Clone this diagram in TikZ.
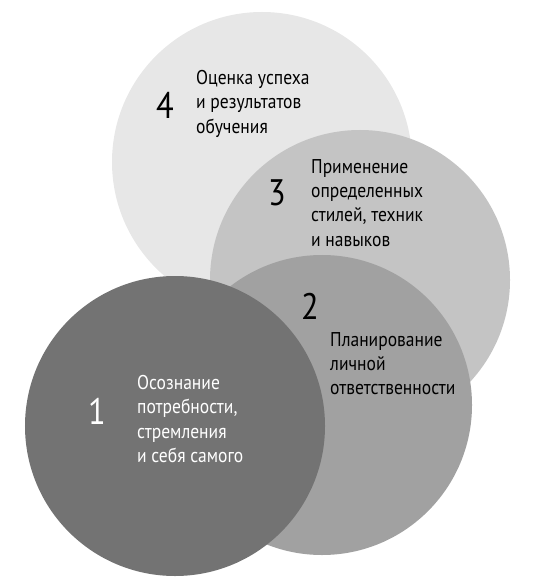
\documentclass[tikz,border=0pt]{standalone}
\usepackage{fontspec}
\setmainfont{PT Sans}[FakeStretch=0.88]
\definecolor{shadefour}{HTML}{E7E7E7}
\definecolor{shadethree}{HTML}{C4C4C4}
\definecolor{shadetwo}{HTML}{A1A1A1}
\definecolor{shadeone}{HTML}{737373}

\begin{document}
\begin{tikzpicture}[x=1bp, y=-1bp,
    disc/.style={circle, minimum size=300bp, inner sep=0pt},
    num/.style={inner sep=0pt, font=\fontsize{37}{37}\selectfont},
    txt/.style={anchor=north west, align=left, inner sep=0pt, font=\fontsize{20}{24.5}\selectfont}]
    \useasboundingbox (0,0) rectangle (535,581);

    \node[disc, fill=shadefour] (c4) at (262,162) {};
    \node[disc, fill=shadethree] (c3) at (360,280) {};
    \node[disc, fill=shadetwo] (c2) at (322,405) {};
    \node[disc, fill=shadeone] (c1) at (175,426) {};

    \node[num] (n4) at (165,105) {4};
    \node[txt] (t4) at (196,70) {Оценка успеха\\и результатов\\обучения};

    \node[num] (n3) at (277,193) {3};
    \node[txt] (t3) at (311,159) {Применение\\определенных\\стилей, техник\\и навыков};

    \node[num] (n2) at (310,306) {2};
    \node[txt] (t2) at (330,332) {Планирование\\личной\\ответственности};

    \node[num, text=white] (n1) at (97,411) {1};
    \node[txt, text=white] (t1) at (137,375) {Осознание\\потребности,\\стремления\\и себя самого};
\end{tikzpicture}
\end{document}
